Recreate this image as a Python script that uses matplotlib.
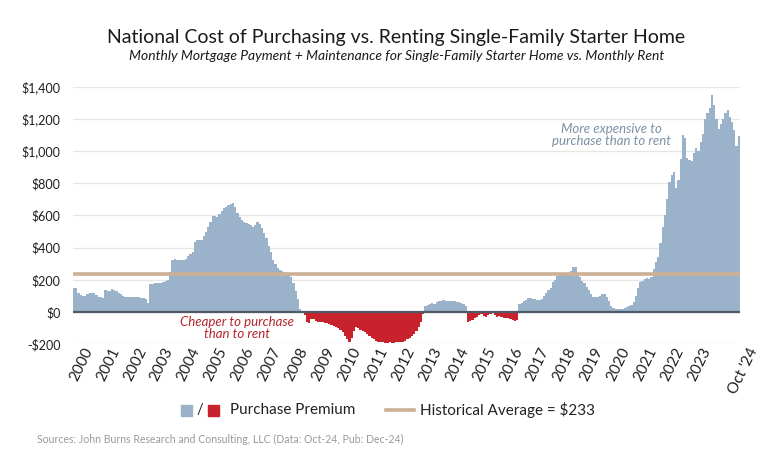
import matplotlib
matplotlib.use("Agg")
import matplotlib.pyplot as plt
import matplotlib.transforms as mtransforms
from matplotlib.patches import Rectangle
from matplotlib.lines import Line2D
import numpy as np

plt.rcParams["font.family"] = ["Lato", "DejaVu Sans"]

# monthly purchase premium, Jan 2000 .. Oct 2024
premium = [
    # 2000
    150, 150, 120, 105, 100, 100, 110, 118, 120, 115, 105, 95,
    # 2001
    90, 85, 135, 130, 130, 140, 138, 130, 120, 110, 100, 95,
    # 2002
    95, 92, 95, 95, 92, 90, 88, 85, 78, 55, 175, 175,
    # 2003
    178, 180, 182, 180, 185, 190, 200, 250, 320, 330, 325, 320,
    # 2004
    323, 323, 330, 345, 360, 375, 435, 445, 448, 448, 470, 495,
    # 2005
    530, 560, 595, 595, 592, 610, 625, 645, 655, 665, 670, 678,
    # 2006
    650, 615, 590, 570, 560, 555, 550, 540, 530, 540, 560, 550,
    # 2007
    520, 490, 460, 410, 370, 320, 295, 275, 262, 255, 248, 240,
    # 2008
    230, 215, 180, 130, 80, 15, -10, -20, -65, -70, -45, -45,
    # 2009
    -55, -60, -65, -65, -70, -70, -75, -80, -90, -95, -100, -110,
    # 2010
    -125, -150, -170, -185, -160, -120, -95, -100, -115, -120, -125, -140,
    # 2011
    -150, -160, -170, -180, -185, -188, -190, -192, -193, -190, -192, -193,
    # 2012
    -190, -188, -190, -185, -180, -170, -160, -150, -135, -120, -95, -65,
    # 2013
    -15, 35, 45, 50, 55, 50, 60, 65, 70, 72, 70, 70,
    # 2014
    68, 65, 65, 62, 60, 55, 50, 35, -65, -55, -50, -40,
    # 2015
    -30, -20, -15, -25, -30, -20, -12, -8, -20, -30, -28, -32,
    # 2016
    -35, -38, -40, -45, -50, -55, -50, 50, 55, 65, 75, 85,
    # 2017
    85, 80, 78, 75, 72, 80, 100, 115, 135, 150, 185, 200,
    # 2018
    225, 235, 240, 242, 240, 245, 255, 280, 280, 235, 215, 195,
    # 2019
    180, 155, 135, 110, 95, 90, 95, 100, 110, 112, 95, 65,
    # 2020
    35, 25, 20, 18, 18, 20, 22, 28, 35, 40, 60, 100,
    # 2021
    150, 185, 195, 205, 210, 205, 215, 265, 310, 340, 430, 530,
    # 2022
    600, 700, 810, 850, 870, 770, 820, 950, 1100, 1080, 960, 945,
    # 2023
    940, 990, 1020, 1000, 1060, 1110, 1200, 1240, 1270, 1350, 1290, 1200,
    # 2024 (Jan-Oct)
    1140, 1170, 1200, 1240, 1255, 1210, 1180, 1130, 1035, 1095,
]
hist_avg = 233
year_labels = [str(y) for y in range(2000, 2024)] + ["Oct '24"]

blue = "#9ab3cb"
red = "#c8232c"
tan = "#cdb095"

fig = plt.figure(figsize=(7.68, 4.53), dpi=100)
ax = fig.add_axes([0.095, 0.2406, 0.8685, 0.5674])

vals = np.array(premium)
x = np.arange(len(vals))
colors = [blue if v >= 0 else red for v in vals]
ax.bar(x, vals, width=1.0, color=colors, linewidth=0, zorder=2)

ax.axhline(hist_avg, color=tan, lw=2.6, zorder=3)
ax.axhline(0, color="#4f5a66", lw=1.6, zorder=4)

ax.set_xlim(-0.5, len(vals) - 0.5)
ax.set_ylim(-200, 1400)
ax.set_yticks(np.arange(-200, 1401, 200))
ax.set_yticklabels([f"-${abs(v):,}" if v < 0 else f"${v:,}" for v in range(-200, 1401, 200)])
ax.yaxis.grid(True, color="#e6e6e6", lw=0.9, zorder=0)
ax.set_axisbelow(True)
for s in ax.spines.values():
    s.set_visible(False)
ax.tick_params(axis="y", length=0, pad=9, labelsize=9, labelcolor="#1f1f1f")

ticks = [12 * i for i in range(24)] + [len(vals) - 1]
ax.set_xticks(ticks)
ax.set_xticklabels(year_labels, rotation=64, ha="right", va="center",
                   rotation_mode="anchor", fontsize=11, color="#1f1f1f")
ax.tick_params(axis="x", length=0, pad=3)
shift = mtransforms.ScaledTranslation(0.15, 0, fig.dpi_scale_trans)
for lab in ax.get_xticklabels():
    lab.set_transform(lab.get_transform() + shift)

ax.text(73, -100, "Cheaper to purchase\nthan to rent", color="#b3262e", fontsize=9.5,
        style="italic", ha="center", va="center", linespacing=1.0, zorder=5)
ax.text(240, 1100, "More expensive to\npurchase than to rent", color="#7d90a6",
        fontsize=9.5, style="italic", ha="center", va="center", linespacing=1.0, zorder=5)

fig.text(0.516, 0.918, "National Cost of Purchasing vs. Renting Single-Family Starter Home",
         ha="center", va="center", fontsize=14, color="#1a1a1a")
fig.text(0.516, 0.876, "Monthly Mortgage Payment + Maintenance for Single-Family Starter Home vs. Monthly Rent",
         ha="center", va="center", fontsize=10, style="italic", color="#1a1a1a")

# legend
ly = 1 - 410 / 453
sq_w, sq_h = 11 / 768, 11 / 453
fig.add_artist(Rectangle((181 / 768, ly - sq_h / 2), sq_w, sq_h, color=blue, transform=fig.transFigure))
fig.text(200 / 768, ly, "/", ha="center", va="center", fontsize=10.5, color="#222222")
fig.add_artist(Rectangle((208 / 768, ly - sq_h / 2), sq_w, sq_h, color=red, transform=fig.transFigure))
fig.text(230 / 768, ly, "Purchase Premium", ha="left", va="center", fontsize=11, color="#222222")
fig.add_artist(Line2D([386 / 768, 414 / 768], [ly, ly], color=tan, lw=2.6, transform=fig.transFigure))
fig.text(420 / 768, ly, "Historical Average = $233", ha="left", va="center", fontsize=11, color="#222222")

fig.text(37 / 768, 1 - 439 / 453, "Sources: John Burns Research and Consulting, LLC (Data: Oct-24, Pub: Dec-24)",
         ha="left", va="center", fontsize=7.6, color="#9a9a9a")

fig.savefig("out.png", dpi=100)
